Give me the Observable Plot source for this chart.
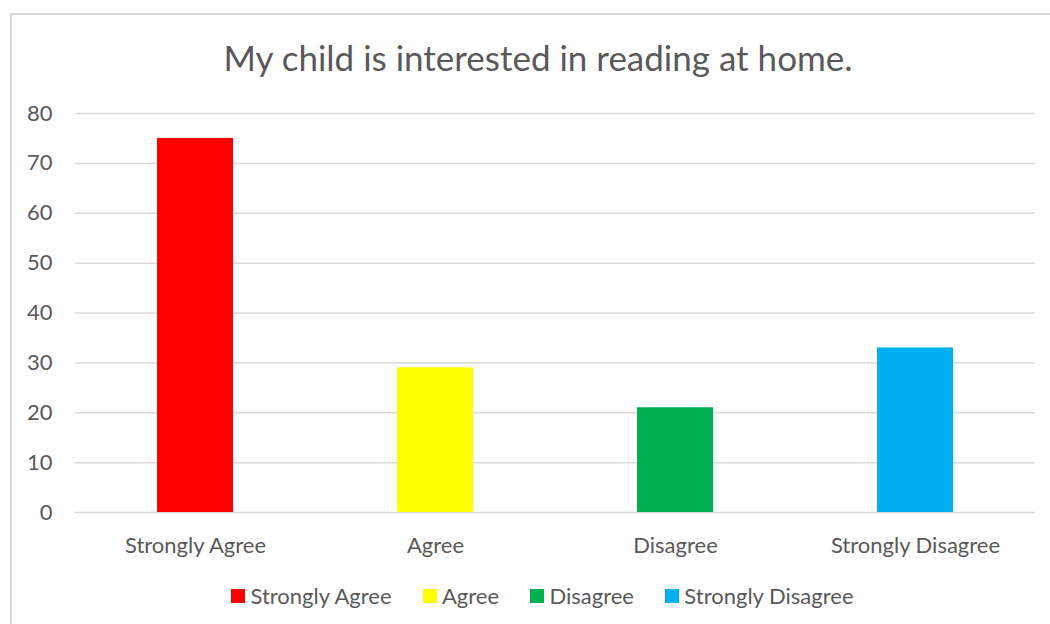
<!DOCTYPE html>
<html>
<head>
<meta charset="utf-8">
<script src="https://cdn.jsdelivr.net/npm/d3@7"></script>
<script src="https://cdn.jsdelivr.net/npm/@observablehq/plot@0.6"></script>
<style>
  html, body { margin: 0; padding: 0; background: #fff; overflow: hidden; }
  body { width: 1050px; height: 624px; position: relative; font-family: Lato, "Open Sans", sans-serif; color: #595959; }
  #frame { position: absolute; left: 10px; top: 13px; width: 1060px; height: 640px; border: 2px solid #d9d9d9; box-sizing: border-box; }
  #title { position: absolute; left: 0; width: 1076px; top: 36px; text-align: center; font-size: 35px; color: #595959; white-space: nowrap; }
  #chart { position: absolute; left: 0; top: 0; }
  #legend { position: absolute; left: 0; width: 1085px; top: 582px; display: flex; justify-content: center; font-size: 22px; color: #595959; }
  .item { display: flex; align-items: center; margin: 0 15.7px; }
  .sw { width: 14px; height: 14px; margin-right: 5px; }
</style>
</head>
<body>
<div id="frame"></div>
<div id="chart"></div>
<div id="title"></div>
<div id="legend"></div>
<script>
const titleText = "My child is interested in reading at home.";
const categories = ["Strongly Agree", "Agree", "Disagree", "Strongly Disagree"];
const values = [75, 29, 21, 33];
const colors = ["#FF0000", "#FFFF00", "#00B050", "#00B0F0"];
const yTicks = [0, 10, 20, 30, 40, 50, 60, 70, 80];

const data = categories.map((c, i) => ({category: c, value: values[i]}));

document.getElementById("title").textContent = titleText;

const plot = Plot.plot({
  width: 1050,
  height: 570,
  marginLeft: 75,
  marginRight: 15,
  marginTop: 113,
  marginBottom: 58,
  style: {fontFamily: "Lato, 'Open Sans', sans-serif", fontSize: "22px", color: "#595959", background: "transparent"},
  x: {domain: categories, paddingInner: 0.683, paddingOuter: 0.3415, label: null},
  y: {domain: [0, 80], label: null},
  color: {domain: categories, range: colors},
  marks: [
    Plot.gridY(yTicks, {stroke: "#d9d9d9", strokeOpacity: 1, strokeWidth: 1.5}),
    Plot.barY(data, {x: "category", y: "value", fill: "category"}),
    Plot.axisY(yTicks, {tickSize: 0, tickPadding: 23, label: null, fontSize: 22}),
    Plot.axisX({tickSize: 0, tickPadding: 25, label: null, fontSize: 22})
  ]
});
document.getElementById("chart").appendChild(plot);

const legend = document.getElementById("legend");
categories.forEach((c, i) => {
  const item = document.createElement("div");
  item.className = "item";
  const sw = document.createElement("span");
  sw.className = "sw";
  sw.style.background = colors[i];
  const t = document.createElement("span");
  t.textContent = c;
  item.appendChild(sw);
  item.appendChild(t);
  legend.appendChild(item);
});
</script>
</body>
</html>
